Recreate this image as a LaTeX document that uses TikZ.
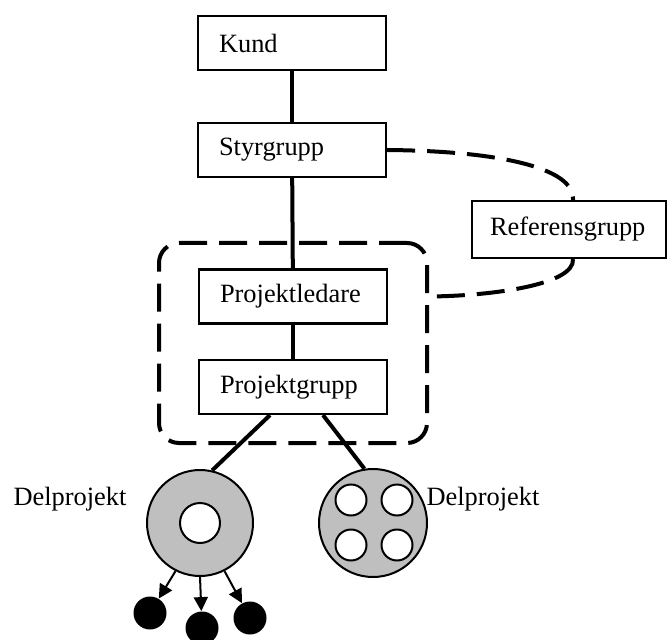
\documentclass[tikz,border=0pt]{standalone}
\usepackage{fontspec}
\setmainfont{Liberation Serif}
\usetikzlibrary{arrows.meta, positioning}
\tikzset{>={Triangle[width=7pt,length=7pt]}}

\begin{document}
\begin{tikzpicture}[x=0.5pt, y=-0.5pt, font=\fontsize{13.2}{15}\selectfont,
	box/.style={draw, line width=1.1pt, text width=73pt, align=left, inner xsep=10.5pt, minimum height=27pt},
	del/.style={circle, draw, line width=1pt, fill=black!25, inner sep=0pt},
	hole/.style={circle, draw, line width=1pt, fill=white, inner sep=0pt},
	blob/.style={circle, fill=black, inner sep=0pt, minimum size=16.5pt},
	link/.style={line width=2pt},
	loose/.style={line width=2pt, dash pattern=on 14pt off 6pt}]
			\useasboundingbox (0,0) rectangle (667,640);
			\node (kund) [box] at (292,43) {Kund};
			\node (styr) [box] at (292,150) {Styrgrupp};
			\node (pl) [box] at (293,296.5) {Projektledare};
			\node (pg) [box] at (293,387) {Projektgrupp};
			\node (ref) [box, text width=79pt, inner xsep=9pt, minimum height=28.5pt] at (569,229.5) {Referensgrupp};
			\node (team) [loose, draw, rounded corners=10pt, minimum width=134pt, minimum height=100pt] at (293,343) {};
			\node (del1) [del, minimum size=53pt] at (200,523) {};
			\node (del2) [del, minimum size=54pt] at (373,523) {};
			\node (core) [hole, minimum size=20pt] at (del1) {};
			\foreach \px/\py [count=\i] in {351/500, 397/500, 351/545, 397/545}
				\node (sub\i) [hole, minimum size=15.5pt] at (\px,\py) {};
			\node (dotA) [blob] at (150,613) {};
			\node (dotB) [blob] at (202,628) {};
			\node (dotC) [blob] at (250,618) {};
			\node (lblA) at (70,499) {Delprojekt};
			\node (lblB) at (483,499) {Delprojekt};
			\draw[link] (kund) -- (styr);
			\draw[link] (styr) -- (pl);
			\draw[link] (pl) -- (pg);
			\draw[link] ([xshift=-11.5pt]pg.south) -- (del1.77);
			\draw[link] ([xshift=15pt]pg.south) -- (del2.99);
			\draw[loose] (styr.east) .. controls (500,151) and (575,168) .. ([xshift=2pt]ref.north);
			\draw[loose] ([xshift=2pt]ref.south) .. controls (575,285) and (490,296) .. (team.east |- pl);
			\draw[->, line width=1pt] (del1.243) -- (dotA);
			\draw[->, line width=1pt] (del1.270) -- (dotB);
			\draw[->, line width=1pt] (del1.297) -- (dotC);
\end{tikzpicture}
\end{document}
